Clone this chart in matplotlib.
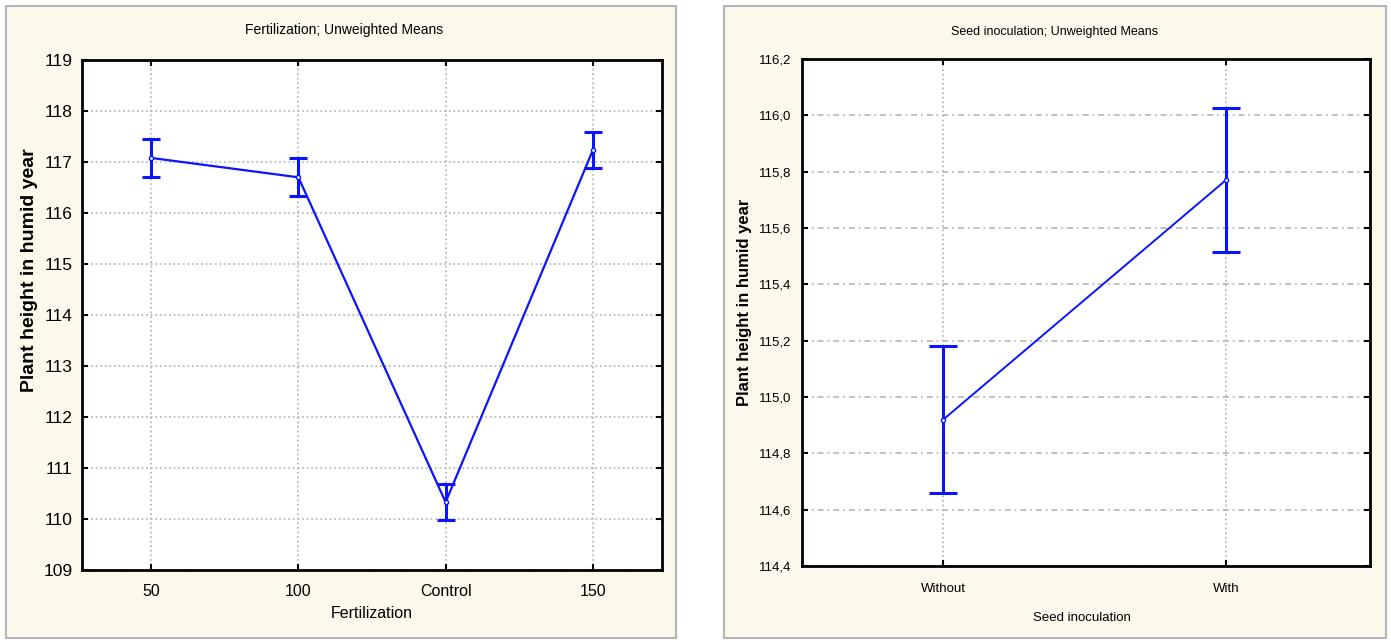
import matplotlib
matplotlib.use("Agg")
import matplotlib.pyplot as plt
from matplotlib.patches import Rectangle

plt.rcParams['font.family'] = ['Liberation Sans', 'DejaVu Sans']

# ---- data ----
fert_cats = ["50", "100", "Control", "150"]
fert_means = [117.08, 116.70, 110.33, 117.23]
fert_err = [0.37, 0.37, 0.35, 0.35]
fert_yticks = [109, 110, 111, 112, 113, 114, 115, 116, 117, 118, 119]

inoc_cats = ["Without", "With"]
inoc_means = [114.92, 115.77]
inoc_err = [0.26, 0.255]
inoc_yticks = [114.4, 114.6, 114.8, 115.0, 115.2, 115.4, 115.6, 115.8, 116.0, 116.2]

W, H = 1391, 642
fig = plt.figure(figsize=(W / 100, H / 100), dpi=100)
fig.patch.set_facecolor("white")

def px_rect(x0, y0, x1, y1):
    return [x0 / W, 1 - y1 / H, (x1 - x0) / W, (y1 - y0) / H]

def ftext(x, y, s, **kw):
    fig.text(x / W, 1 - y / H, s, ha="center", va="center", **kw)

cream = "#fcf8ec"
for (x0, y0, x1, y1) in [(6, 6, 676, 638), (724, 6, 1386, 638)]:
    fig.patches.append(Rectangle((x0 / W, 1 - y1 / H), (x1 - x0) / W, (y1 - y0) / H,
                                 transform=fig.transFigure, facecolor=cream,
                                 edgecolor="#b5b5b5", linewidth=1.5, zorder=-5))

blue = "#0a14ff"

# ---- left chart ----
ax1 = fig.add_axes(px_rect(82, 60, 662, 570))
ax1.set_facecolor("white")
x1 = list(range(len(fert_cats)))
ax1.errorbar(x1, fert_means, yerr=fert_err, color=blue, linewidth=1.6,
             elinewidth=2.2, capsize=6.5, capthick=2.2, marker="o", markersize=3,
             markerfacecolor="white", markeredgecolor=blue, zorder=3)
ax1.set_xlim(-0.47, 3.47)
ax1.set_ylim(109, 119)
ax1.set_xticks(x1)
ax1.set_xticklabels(fert_cats, fontsize=11.5)
ax1.set_yticks(fert_yticks)
ax1.set_yticklabels([str(v) for v in fert_yticks], fontsize=12.5)
ax1.grid(True, color="#b0b0b0", linestyle=(0, (1.2, 1.8)), linewidth=1.1)
ax1.tick_params(direction="in", length=4, width=1.5, top=True, right=True, pad=7)
ax1.tick_params(axis="x", pad=10)
for s in ax1.spines.values():
    s.set_linewidth(2)
ax1.set_axisbelow(True)

ftext(344, 30, "Fertilization; Unweighted Means", fontsize=10)
ftext(372, 614, "Fertilization", fontsize=11.5)
ftext(30, 270, "Plant height in humid year", fontsize=14, fontweight="bold", rotation=90)

# ---- right chart ----
ax2 = fig.add_axes(px_rect(802, 59, 1370, 566))
ax2.set_facecolor("white")
x2 = list(range(len(inoc_cats)))
ax2.errorbar(x2, inoc_means, yerr=inoc_err, color=blue, linewidth=1.4,
             elinewidth=2.2, capsize=10, capthick=2.2, marker="o", markersize=3,
             markerfacecolor="white", markeredgecolor=blue, zorder=3)
ax2.set_xlim(-0.5, 1.51)
ax2.set_ylim(114.4, 116.2)
ax2.set_xticks(x2)
ax2.set_xticklabels(inoc_cats, fontsize=9.5)
ax2.set_yticks(inoc_yticks)
ax2.set_yticklabels([f"{v:.1f}".replace(".", ",") for v in inoc_yticks], fontsize=9.5)
ax2.xaxis.grid(True, color="#b0b0b0", linestyle=(0, (1.2, 1.8)), linewidth=1.1)
ax2.yaxis.grid(True, color="#b0b0b0", linestyle=(0, (4, 2.5, 1.2, 2.5)), linewidth=1.1)
ax2.tick_params(direction="in", length=4, width=1.5, top=True, right=True, pad=8)
ax2.tick_params(axis="x", pad=12)
for s in ax2.spines.values():
    s.set_linewidth(2)
ax2.set_axisbelow(True)

ftext(1055, 32, "Seed inoculation; Unweighted Means", fontsize=9)
ftext(1082, 618, "Seed inoculation", fontsize=9.5)
ftext(745, 302, "Plant height in humid year", fontsize=12, fontweight="bold", rotation=90)

fig.savefig("out.png", dpi=100, facecolor=fig.get_facecolor())
